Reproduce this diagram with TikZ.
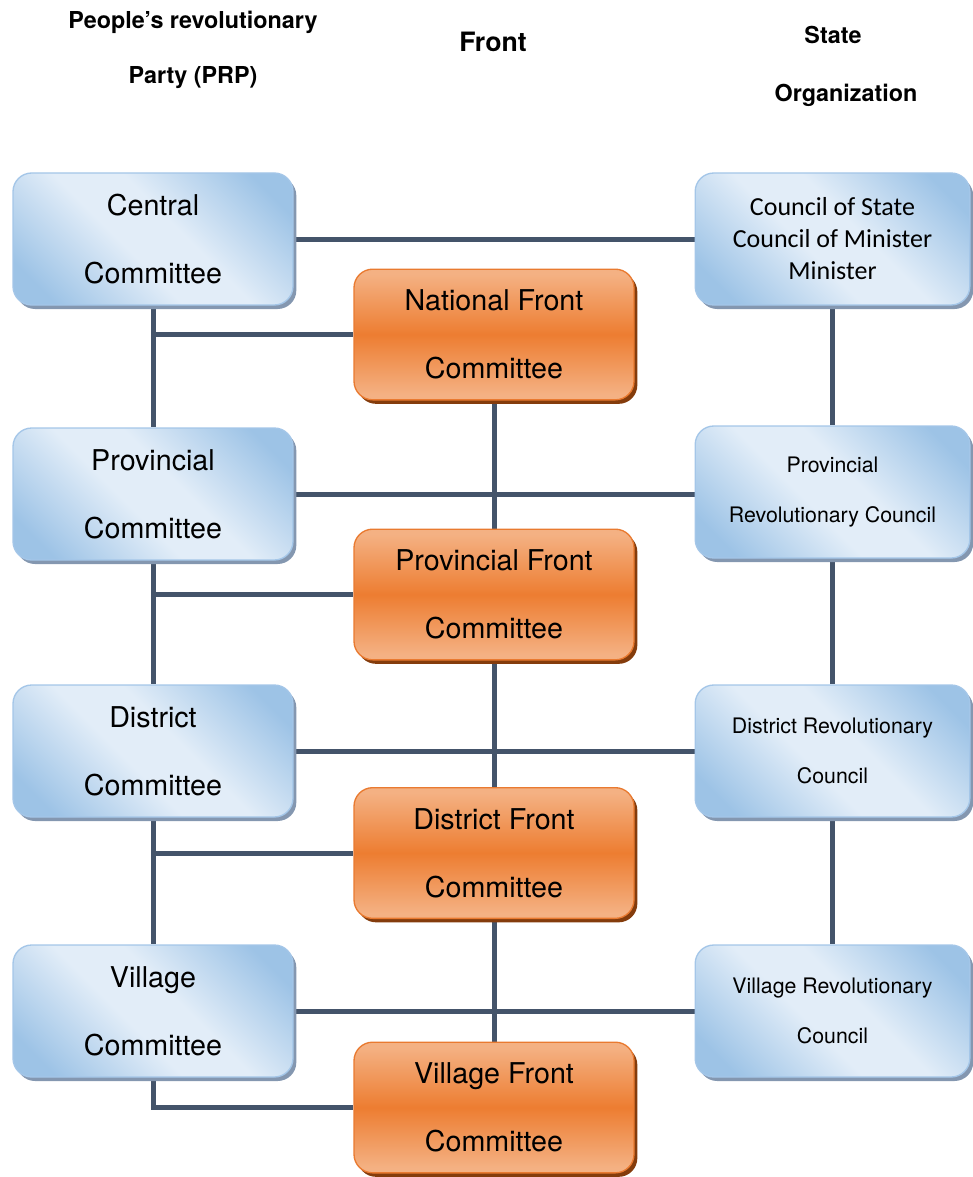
\documentclass[tikz,border=0pt]{standalone}
\usepackage{fontspec}
\setmainfont{TeX Gyre Heros}
\newfontfamily\calibri{Carlito}
\usetikzlibrary{shadows,backgrounds}
\definecolor{blight}{HTML}{E2EDF8}
\definecolor{bdark}{HTML}{9DC3E6}
\definecolor{bborder}{HTML}{A4C6E8}
\definecolor{bshadow}{HTML}{8497B0}
\definecolor{olight}{HTML}{F4B183}
\definecolor{omid}{HTML}{ED7D31}
\definecolor{oborder}{HTML}{E97A30}
\definecolor{oshadow}{HTML}{843C0C}
\definecolor{linec}{HTML}{44546A}
\pgfdeclareverticalshading{bluediag}{100bp}{color(0bp)=(bdark); color(22bp)=(bdark); color(44bp)=(blight); color(56bp)=(blight); color(78bp)=(bdark); color(100bp)=(bdark)}
\pgfdeclareverticalshading{orangev}{100bp}{color(0bp)=(olight); color(27bp)=(olight); color(50bp)=(omid); color(73bp)=(olight); color(100bp)=(olight)}
\tikzset{
  bluebox/.style={draw=bborder, line width=1pt, rounded corners=14pt, shading=bluediag, shading angle=-45,
    minimum width=210pt, minimum height=99pt, align=center, inner sep=0pt,
    drop shadow={shadow xshift=2.5pt, shadow yshift=-3pt, fill=bshadow, opacity=1}},
  orangebox/.style={draw=oborder, line width=1pt, rounded corners=14pt, shading=orangev,
    minimum width=210pt, minimum height=98pt, align=center, inner sep=0pt,
    drop shadow={shadow xshift=2.5pt, shadow yshift=-3pt, fill=oshadow, opacity=1}},
  bigtext/.style={font=\fontsize{21.5}{51}\selectfont},
  smalltext/.style={font=\fontsize{16}{37}\selectfont},
  caltext/.style={font=\calibri\fontsize{19.5}{24}\selectfont},
  hdr/.style={font=\bfseries\fontsize{17.5}{20}\selectfont, inner sep=0pt},
  conn/.style={draw=linec, line width=3.75pt}
}
\begin{document}
\begin{tikzpicture}[x=0.75pt,y=-0.75pt]
\useasboundingbox (0,0) rectangle (972,1177);
% headers
\node[hdr] (h1) at (193,22) {People’s revolutionary};
\node[hdr] (h2) at (193,78) {Party (PRP)};
\node[hdr, font=\bfseries\fontsize{20}{24}\selectfont] (h3) at (493,42) {Front};
\node[hdr] (h4) at (833,35) {State};
\node[hdr] (h5) at (846,95) {Organization};
% left column
\node[bluebox, bigtext] (cc) at (153,239) {Central\\Committee};
\node[bluebox, bigtext] (pc) at (153,494) {Provincial\\Committee};
\node[bluebox, bigtext] (dc) at (153,751) {District\\Committee};
\node[bluebox, bigtext] (vc) at (153,1011) {Village\\Committee};
% front column
\node[orangebox, bigtext] (nf) at (494,334.5) {National Front\\Committee};
\node[orangebox, bigtext] (pf) at (494,594.5) {Provincial Front\\Committee};
\node[orangebox, bigtext] (df) at (494,853) {District Front\\Committee};
\node[orangebox, bigtext] (vf) at (494,1107.5) {Village Front\\Committee};
% right column
\node[bluebox, caltext, minimum width=206pt] (cs) at (832.5,239) {Council of State\\Council of Minister\\Minister};
\node[bluebox, smalltext, minimum width=206pt] (pr) at (832.5,492) {Provincial\\Revolutionary Council};
\node[bluebox, smalltext, minimum width=206pt] (dr) at (832.5,751) {District Revolutionary\\Council};
\node[bluebox, smalltext, minimum width=206pt] (vr) at (832.5,1011) {Village Revolutionary\\Council};
% connectors
\begin{scope}[on background layer]
\draw[conn] (cc.east) -- (cc.east -| cs.west);
\draw[conn] (pc.east) -- (pc.east -| pr.west);
\draw[conn] (dc.east) -- (dc.east -| dr.west);
\draw[conn] (vc.east) -- (vc.east -| vr.west);
\draw[conn] (cc.south) -- (pc.north);
\draw[conn] (pc.south) -- (dc.north);
\draw[conn] (dc.south) -- (vc.north);
\draw[conn] (cs.south) -- (pr.north);
\draw[conn] (pr.south) -- (dr.north);
\draw[conn] (dr.south) -- (vr.north);
\draw[conn] (nf.south) -- (pf.north);
\draw[conn] (pf.south) -- (df.north);
\draw[conn] (df.south) -- (vf.north);
\draw[conn] (cc.south |- nf.west) -- (nf.west);
\draw[conn] (pc.south |- pf.west) -- (pf.west);
\draw[conn] (dc.south |- df.west) -- (df.west);
\draw[conn] (vc.south) -- (vc.south |- vf.west) -- (vf.west);
\end{scope}
\end{tikzpicture}
\end{document}
